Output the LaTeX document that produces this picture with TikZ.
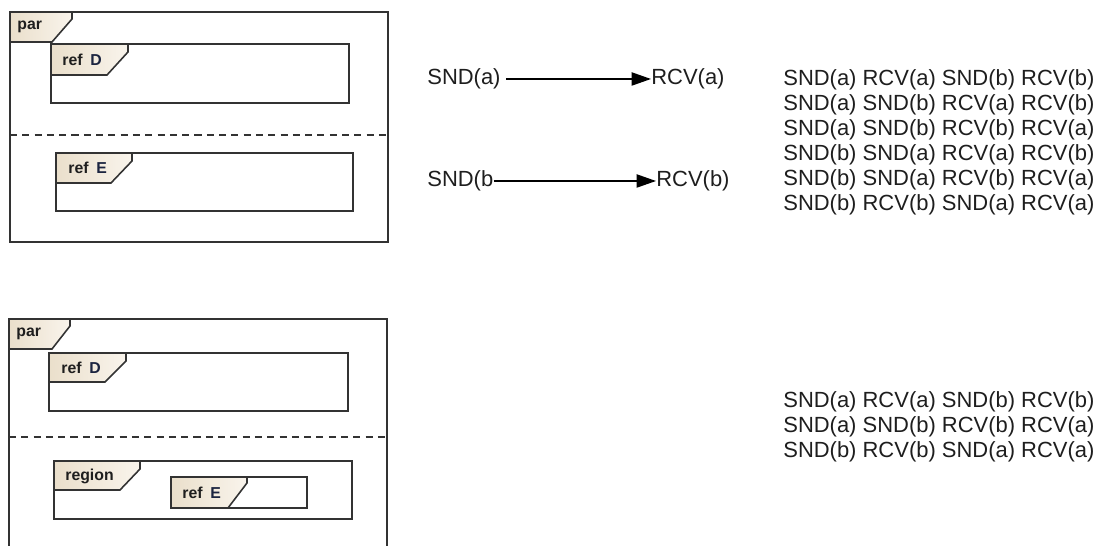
\documentclass[tikz,border=0pt]{standalone}
\usepackage{fontspec}
\setmainfont{Liberation Sans}
\usepackage{tikz}
\usetikzlibrary{arrows.meta, positioning, calc}

\definecolor{linegray}{HTML}{333333}
\definecolor{tableft}{HTML}{EADFCB}
\definecolor{tabright}{HTML}{F9F4EC}
\definecolor{inktext}{HTML}{1E1E1E}
\definecolor{namenavy}{HTML}{1B2440}

\begin{document}
\begin{tikzpicture}[
  x=0.02cm, y=-0.02cm,
  frame/.style={draw=linegray, line width=0.9pt},
  fragtab/.style={draw=linegray, line width=0.9pt, left color=tableft, right color=tabright},
  tablabel/.style={anchor=west, inner sep=0pt, font=\fontsize{9}{10}\selectfont\bfseries, text=inktext},
  event/.style={anchor=west, inner sep=0pt, font=\fontsize{12.5}{14.2}\selectfont, text=inktext},
  traces/.style={anchor=north west, inner sep=0pt, align=left, font=\fontsize{12.5}{14.2}\selectfont, text=inktext},
  arrow/.style={-{Triangle[length=11pt, width=7.5pt]}, line width=0.8pt, draw=black}
]
  \useasboundingbox[fill=white] (0,0) rectangle (1100,546);

  % upper par fragment
  \draw[frame] (10,12) rectangle (388,242);
  \draw[fragtab] (10,12) -- (72,12) -- (72,19) -- (52,42) -- (10,42) -- cycle;
  \node[tablabel] (par1) at (17,27) {par};
  \draw[frame] (51,44) rectangle (349,103);
  \draw[fragtab] (51,44) -- (128,44) -- (128,52) -- (107,75) -- (51,75) -- cycle;
  \node[tablabel] (refD1) at (62,60) {ref\enspace\textcolor{namenavy}{D}};
  \draw[frame, dashed, dash pattern=on 4pt off 3pt] (10,135) -- (388,135);
  \draw[frame] (56,153) rectangle (353,211);
  \draw[fragtab] (56,153) -- (132,153) -- (132,161) -- (111,183) -- (56,183) -- cycle;
  \node[tablabel] (refE1) at (68,168) {ref\enspace\textcolor{namenavy}{E}};

  % lower par fragment (cut off at the bottom)
  \draw[frame] (9,548) -- (9,319) -- (387,319) -- (387,548);
  \draw[fragtab] (9,319) -- (70,319) -- (70,326) -- (52,349) -- (9,349) -- cycle;
  \node[tablabel] (par2) at (16,334) {par};
  \draw[frame] (49,353) rectangle (348,411);
  \draw[fragtab] (49,353) -- (126,353) -- (126,361) -- (105,382) -- (49,382) -- cycle;
  \node[tablabel] (refD2) at (61,368) {ref\enspace\textcolor{namenavy}{D}};
  \draw[frame, dashed, dash pattern=on 4pt off 3pt] (9,437) -- (387,437);
  \draw[frame] (54,461) rectangle (352,519);
  \draw[fragtab] (54,461) -- (140,461) -- (140,469) -- (120,490) -- (54,490) -- cycle;
  \node[tablabel] (region) at (65,476) {region};
  \draw[frame] (171,477) rectangle (307,508);
  \draw[fragtab] (171,477) -- (247,477) -- (247,483) -- (228,508) -- (171,508) -- cycle;
  \node[tablabel] (refE2) at (182,493) {ref\enspace\textcolor{namenavy}{E}};

  % send / receive events
  \node[event] (snda) at (427,79) {SND(a)};
  \node[event] (rcva) at (651,79) {RCV(a)};
  \node[event] (sndb) at (427,181) {SND(b};
  \node[event] (rcvb) at (656,181) {RCV(b)};
  \draw[arrow, shorten <=3pt] (snda.east) -- (rcva.west);
  \draw[arrow] (sndb.east) -- (rcvb.west);

  % possible traces
  \node[traces] (alltraces) at (783,69) {SND(a) RCV(a) SND(b) RCV(b)\\SND(a) SND(b) RCV(a) RCV(b)\\SND(a) SND(b) RCV(b) RCV(a)\\SND(b) SND(a) RCV(a) RCV(b)\\SND(b) SND(a) RCV(b) RCV(a)\\SND(b) RCV(b) SND(a) RCV(a)};
  \node[traces] (regiontraces) at (783,391) {SND(a) RCV(a) SND(b) RCV(b)\\SND(a) SND(b) RCV(b) RCV(a)\\SND(b) RCV(b) SND(a) RCV(a)};
\end{tikzpicture}
\end{document}
